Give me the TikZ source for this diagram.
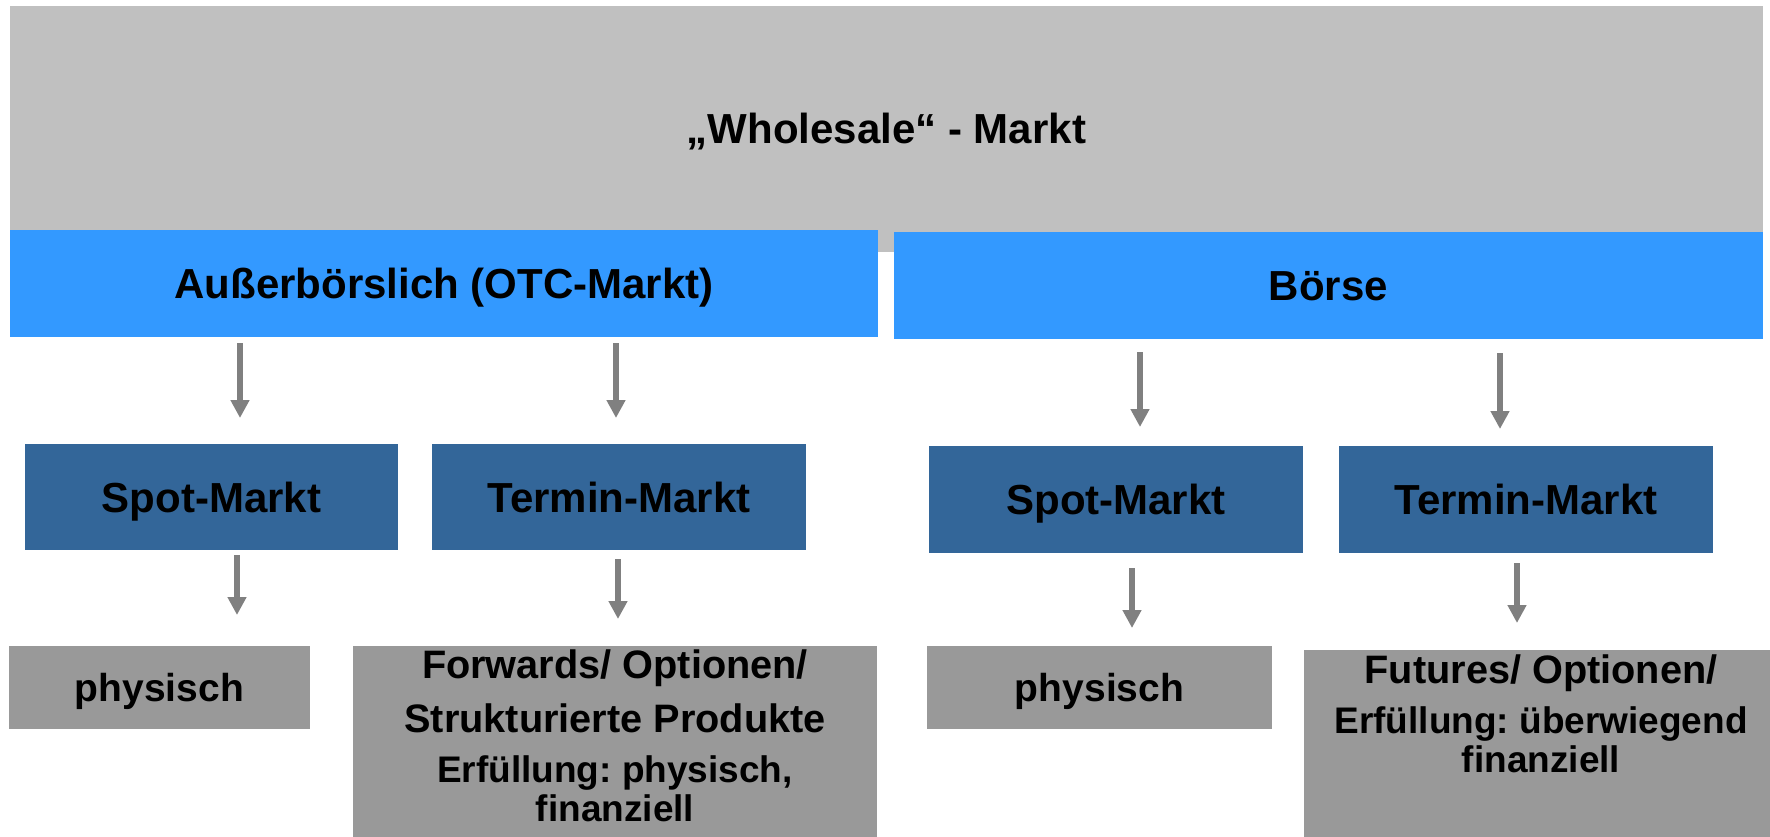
\documentclass[tikz,border=0pt]{standalone}
\usepackage{fontspec}
\setmainfont{Liberation Sans}
\usetikzlibrary{arrows.meta}
\frenchspacing
\definecolor{topgray}{HTML}{C0C0C0}
\definecolor{lblue}{HTML}{3399FF}
\definecolor{dblue}{HTML}{336699}
\definecolor{lowgray}{HTML}{999999}
\definecolor{arrgray}{HTML}{808080}
\tikzset{
  boxbase/.style={inner sep=0pt, outer sep=0pt, anchor=north west, text=black, align=center},
  bigtxt/.style={font=\bfseries\fontsize{42}{50}\selectfont, text height=30pt, text depth=0pt},
  midtxt/.style={font=\bfseries\fontsize{39}{46}\selectfont, text height=28pt, text depth=0pt},
  topbox/.style={boxbase, bigtxt, fill=topgray},
  catbox/.style={boxbase, bigtxt, fill=lblue},
  mktbox/.style={boxbase, bigtxt, fill=dblue},
  leafbox/.style={boxbase, midtxt, fill=lowgray},
  headline/.style={inner sep=0pt, anchor=base, font=\bfseries\fontsize{39.7}{46}\selectfont},
  subline/.style={inner sep=0pt, anchor=base, font=\bfseries\fontsize{37}{42}\selectfont},
  arr/.style={draw=arrgray, line width=6pt, -{Triangle[width=18pt,length=18pt]}}
}
\begin{document}
\begin{tikzpicture}[x=1pt,y=-1pt]
\useasboundingbox (0,0) rectangle (1770,837);
% top
\node[topbox, minimum width=1753pt, minimum height=246pt] (whole) at (10,6) {„Wholesale“ - Markt};
% categories
\node[catbox, minimum width=868pt, minimum height=107pt] (otc) at (10,230) {Außerbörslich (OTC-Markt)};
\node[catbox, minimum width=869pt, minimum height=107pt] (boerse) at (894,232) {Börse};
% markets
\node[mktbox, minimum width=373pt, minimum height=106pt] (spotL) at (25,444) {Spot-Markt};
\node[mktbox, minimum width=374pt, minimum height=106pt] (terminL) at (432,444) {Termin-Markt};
\node[mktbox, minimum width=374pt, minimum height=107pt] (spotR) at (929,446) {Spot-Markt};
\node[mktbox, minimum width=374pt, minimum height=107pt] (terminR) at (1339,446) {Termin-Markt};
% leaves
\node[leafbox, minimum width=301pt, minimum height=83pt] (physL) at (9,646) {physisch};
\node[leafbox, minimum width=524pt, minimum height=191pt] (fwd) at (353,646) {};
\node[leafbox, minimum width=345pt, minimum height=83pt] (physR) at (927,646) {physisch};
\node[leafbox, minimum width=466pt, minimum height=187pt] (fut) at (1304,650) {};
% leaf texts
\node[headline] (fwdA) at (615,678) {Forwards/ Optionen/};
\node[headline] (fwdB) at (615,732) {Strukturierte Produkte};
\node[subline] (fwdC) at (615,782) {Erfüllung: physisch,};
\node[subline] (fwdD) at (615,821) {finanziell};
\node[headline] (futA) at (1541,683) {Futures/ Optionen/};
\node[subline] (futB) at (1541,733) {Erfüllung: überwiegend};
\node[subline] (futC) at (1541,772) {finanziell};
% arrow end points
\coordinate (a1s) at (240,343); \coordinate (a1e) at (240,418);
\coordinate (a2s) at (616,343); \coordinate (a2e) at (616,418);
\coordinate (a3s) at (237,555); \coordinate (a3e) at (237,615);
\coordinate (a4s) at (618,559); \coordinate (a4e) at (618,619);
\coordinate (a5s) at (1140,352); \coordinate (a5e) at (1140,427);
\coordinate (a6s) at (1500,353); \coordinate (a6e) at (1500,429);
\coordinate (a7s) at (1132,568); \coordinate (a7e) at (1132,628);
\coordinate (a8s) at (1517,563); \coordinate (a8e) at (1517,623);
\draw[arr] (a1s) -- (a1e);
\draw[arr] (a2s) -- (a2e);
\draw[arr] (a3s) -- (a3e);
\draw[arr] (a4s) -- (a4e);
\draw[arr] (a5s) -- (a5e);
\draw[arr] (a6s) -- (a6e);
\draw[arr] (a7s) -- (a7e);
\draw[arr] (a8s) -- (a8e);
\end{tikzpicture}
\end{document}
